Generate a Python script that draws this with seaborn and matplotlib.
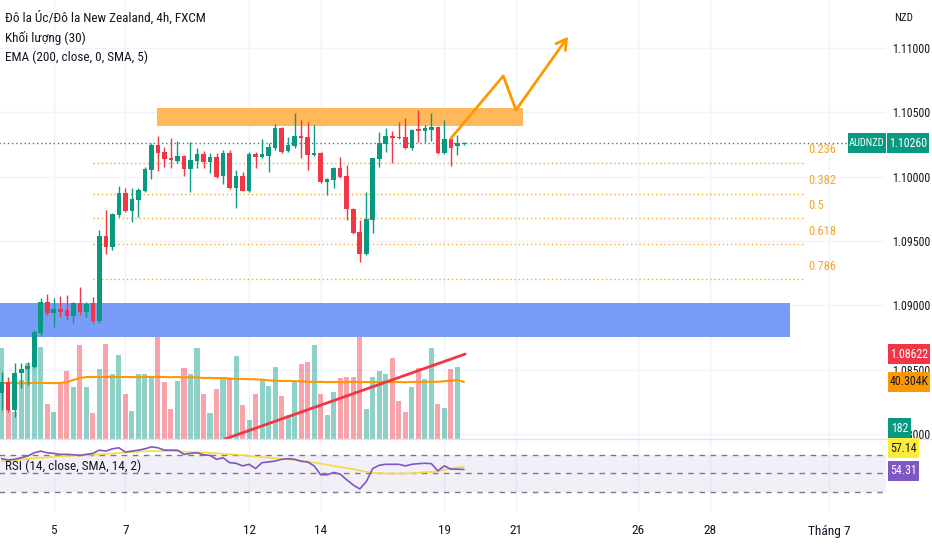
import matplotlib
matplotlib.use("Agg")
import matplotlib.pyplot as plt
from matplotlib import font_manager
from matplotlib.lines import Line2D
from matplotlib.patches import Rectangle
import numpy as np
import seaborn as sns

# 4h candles, AUDNZD (FXCM)
opens = [1.08319, 1.08405, 1.08187, 1.08475, 1.08506, 1.08521, 1.08786, 1.09026, 1.08941, 1.08972,
         1.08964, 1.08918, 1.09019, 1.08949, 1.09019, 1.08879, 1.09539, 1.09454, 1.09702, 1.09873,
         1.09734, 1.09819, 1.09889, 1.10052, 1.10246, 1.10192, 1.10145, 1.10122, 1.10161, 1.10060,
         1.10122, 1.10176, 1.10114, 1.10153, 1.10006, 1.10184, 1.09912, 1.10006, 1.09889, 1.10176,
         1.10153, 1.10161, 1.10223, 1.10378, 1.10200, 1.10239, 1.10316, 1.10309, 1.10169, 1.10184,
         1.09959, 1.09974, 1.10068, 1.10006, 1.09749, 1.09570, 1.09399, 1.09664, 1.10138, 1.10254,
         1.10316, 1.10309, 1.10309, 1.10223, 1.10371, 1.10355, 1.10363, 1.10386, 1.10184, 1.10293,
         1.10239, 1.10254]
highs = [1.08483, 1.08444, 1.08553, 1.08553, 1.08560, 1.08809, 1.09058, 1.09089, 1.09058, 1.09073,
         1.09081, 1.09026, 1.09143, 1.09026, 1.09065, 1.09586, 1.09741, 1.09718, 1.09928, 1.09912,
         1.09912, 1.09912, 1.10075, 1.10262, 1.10316, 1.10231, 1.10301, 1.10277, 1.10169, 1.10270,
         1.10223, 1.10200, 1.10184, 1.10184, 1.10208, 1.10208, 1.10052, 1.10037, 1.10192, 1.10192,
         1.10293, 1.10262, 1.10410, 1.10386, 1.10309, 1.10495, 1.10441, 1.10425, 1.10402, 1.10192,
         1.09990, 1.10075, 1.10153, 1.10091, 1.09757, 1.09664, 1.09881, 1.10145, 1.10347, 1.10378,
         1.10355, 1.10425, 1.10456, 1.10371, 1.10518, 1.10402, 1.10495, 1.10394, 1.10441, 1.10301,
         1.10324, 1.10270]
lows = [1.08187, 1.08172, 1.08133, 1.08358, 1.08382, 1.08514, 1.08762, 1.08925, 1.08832, 1.08910,
        1.08887, 1.08863, 1.08925, 1.08910, 1.08863, 1.08863, 1.09399, 1.09431, 1.09687, 1.09726,
        1.09648, 1.09687, 1.09881, 1.09982, 1.10044, 1.10075, 1.10068, 1.10107, 1.10006, 1.09881,
        1.10068, 1.10068, 1.10029, 1.09990, 1.09943, 1.09905, 1.09757, 1.09889, 1.09881, 1.10068,
        1.10145, 1.10037, 1.10208, 1.10184, 1.10192, 1.10223, 1.10145, 1.10052, 1.10161, 1.09951,
        1.09858, 1.09912, 1.09990, 1.09664, 1.09555, 1.09337, 1.09392, 1.09563, 1.10075, 1.10192,
        1.10107, 1.10293, 1.10215, 1.10208, 1.10270, 1.10270, 1.10277, 1.10176, 1.10176, 1.10083,
        1.10169, 1.10246]
closes = [1.08405, 1.08187, 1.08475, 1.08506, 1.08529, 1.08793, 1.09026, 1.08941, 1.08972, 1.08949,
          1.08918, 1.09019, 1.08949, 1.09011, 1.08879, 1.09539, 1.09454, 1.09710, 1.09873, 1.09734,
          1.09827, 1.09897, 1.10060, 1.10246, 1.10184, 1.10138, 1.10130, 1.10161, 1.10060, 1.10130,
          1.10176, 1.10114, 1.10153, 1.09998, 1.10184, 1.09912, 1.10006, 1.09889, 1.10176, 1.10153,
          1.10176, 1.10231, 1.10378, 1.10192, 1.10246, 1.10316, 1.10301, 1.10169, 1.10184, 1.09959,
          1.09982, 1.10068, 1.09998, 1.09749, 1.09563, 1.09399, 1.09671, 1.10145, 1.10262, 1.10316,
          1.10301, 1.10301, 1.10223, 1.10363, 1.10355, 1.10378, 1.10386, 1.10184, 1.10293, 1.10223,
          1.10262, 1.10260]

# volume in thousands, with its 30-bar average
volume_k = [64.3, 20.5, 19.1, 41.7, 53.7, 61.5, 65.0, 24.7, 19.1, 40.3,
            48.1, 36.8, 66.5, 36.8, 18.4, 49.5, 67.2, 46.0, 59.4, 31.8,
            19.8, 46.0, 46.0, 43.8, 73.5, 40.3, 21.2, 41.0, 50.2, 46.0,
            64.3, 31.8, 18.4, 35.4, 43.8, 43.1, 58.7, 24.0, 13.4, 31.8,
            41.7, 37.5, 50.9, 30.4, 17.0, 40.3, 53.0, 54.4, 66.5, 31.8,
            17.0, 33.2, 43.1, 43.8, 43.8, 73.5, 21.2, 43.8, 48.1, 46.0,
            57.3, 26.9, 19.1, 36.8, 50.2, 42.4, 64.3, 24.7, 21.9, 49.5,
            50.9, 0.182]
volume_ma_k = [39.6, 39.5, 39.6, 39.4, 39.5, 39.6, 39.7, 39.6, 39.5, 39.6,
               40.3, 41.7, 43.1, 43.8, 43.9, 43.8, 44.0, 43.9, 43.8, 43.9,
               43.8, 43.7, 43.8, 43.9, 44.0, 43.8, 43.7, 43.8, 43.6, 43.7,
               43.5, 43.1, 43.2, 43.0, 43.1, 42.8, 42.4, 42.5, 42.3, 42.2,
               42.0, 41.4, 41.2, 41.0, 41.1, 40.9, 40.8, 40.5, 40.3, 40.4,
               40.2, 40.3, 40.1, 40.3, 40.4, 40.2, 40.3, 40.2, 40.4, 40.3,
               40.2, 40.3, 40.1, 40.3, 40.4, 40.3, 40.6, 40.4, 40.9, 41.3,
               41.7, 40.304]

rsi = [65.8, 64.4, 65.1, 66.8, 68.6, 72.1, 73.9, 72.1, 71.4, 70.4,
       70.4, 70.0, 69.3, 70.4, 71.4, 74.9, 73.9, 76.3, 77.4, 72.8,
       73.9, 74.9, 76.3, 78.4, 77.4, 74.9, 74.9, 74.9, 70.4, 71.4,
       72.1, 70.0, 69.3, 65.1, 66.8, 61.6, 60.9, 58.1, 59.8, 55.3,
       61.6, 62.3, 63.3, 65.1, 65.8, 65.1, 63.0, 62.3, 58.1, 48.6,
       48.6, 51.1, 49.3, 43.3, 37.7, 33.5, 41.2, 55.3, 58.8, 59.8,
       59.8, 59.8, 58.1, 59.8, 60.5, 60.9, 60.5, 52.8, 58.1, 54.6,
       54.6, 54.31]
rsi_ma = [63.2, 63.5, 64.0, 64.8, 65.5, 66.2, 66.8, 67.3, 67.8, 68.2,
          68.6, 69.0, 69.3, 69.6, 70.0, 70.4, 70.9, 71.4, 71.9, 72.4,
          72.9, 73.3, 73.7, 73.9, 73.9, 73.9, 73.8, 73.6, 73.3, 73.0,
          72.8, 72.5, 72.0, 71.5, 71.0, 70.5, 70.2, 69.5, 68.8, 68.0,
          67.5, 67.0, 66.3, 65.5, 65.0, 64.5, 63.5, 62.6, 61.6, 60.5,
          59.3, 58.1, 57.0, 55.8, 54.6, 53.2, 51.8, 50.8, 50.2, 50.0,
          50.0, 50.0, 50.0, 50.3, 50.8, 51.3, 51.8, 52.5, 54.0, 55.3,
          56.5, 57.14]

date_ticks = [8, 19, 38, 49, 68, 79, 97.7, 108.8, 127.1]
date_labels = ["5", "7", "12", "14", "19", "21", "26", "28", "Tháng 7"]
price_ticks = [1.080, 1.085, 1.090, 1.095, 1.100, 1.105, 1.110]

fib_names = ["0.236", "0.382", "0.5", "0.618", "0.786"]
fib_prices = [1.10107, 1.09866, 1.09679, 1.09477, 1.09205]
fib_bars = [14.0, 123.1]

resist_bars = [23.9, 80.1]
resist_prices = [1.10394, 1.10534]
support_bars = [-5.0, 121.1]
support_prices = [1.08755, 1.09019]
trend_bars = [34.3, 71.2]
trend_prices = [1.07962, 1.08622]
path_bars = [69.0, 77.05, 79.0, 87.0]
path_prices = [1.10298, 1.10783, 1.10518, 1.11088]

UP = "#089981"
DOWN = "#f23645"
TEXT = "#131722"
GRID = "#f0f3fa"
W, H = 932, 550


def pick_font():
    names = {f.name for f in font_manager.fontManager.ttflist}
    for want in ("Liberation Sans Narrow", "Arial Narrow", "Roboto Condensed"):
        if want in names:
            return want, 1.0
    return "Liberation Sans", 0.86


def rect(x0, y0, x1, y1):
    return [x0 / W, 1 - y1 / H, (x1 - x0) / W, (y1 - y0) / H]


def tag(x0, x1, y_disp, text, face, fg, size):
    fig.add_artist(Rectangle((x0 / W, (y_disp - 10) / H), (x1 - x0) / W, 20 / H,
                             transform=fig.transFigure, facecolor=face,
                             edgecolor="none", zorder=6))
    fig.text((x0 + x1) / 2 / W, y_disp / H, text, ha="center", va="center",
             color=fg, fontsize=size * FS, zorder=7)


sns.set_theme(style="white")
FONT, FS = pick_font()
plt.rcParams["font.family"] = [FONT, "DejaVu Sans"]

fig = plt.figure(figsize=(W / 100, H / 100), dpi=100)
ax_bg = fig.add_axes(rect(0, 0, 886, 439))
ax_vol = fig.add_axes(rect(0, 0, 886, 439), sharex=ax_bg)
ax = fig.add_axes(rect(0, 0, 886, 439), sharex=ax_bg)
ax_rsi = fig.add_axes(rect(0, 439, 886, 512), sharex=ax_bg)

ylim = (1.07962, 1.11373)
ax_bg.set_xlim(-0.26, 135.84)
for a in (ax_bg, ax):
    a.set_ylim(*ylim)
for a in (ax_bg, ax_vol, ax, ax_rsi):
    for s in a.spines.values():
        s.set_visible(False)
ax_vol.patch.set_visible(False)
ax.patch.set_visible(False)

# grid lives on the bottom axes so it stays behind volume and candles
ax_bg.set_yticks(price_ticks)
ax_bg.set_xticks(date_ticks, labels=date_labels)
ax_bg.grid(True, color=GRID, lw=1)
ax_bg.tick_params(left=False, bottom=False, labelleft=False, labelbottom=False)

bars = np.arange(len(closes))
o = np.array(opens)
c = np.array(closes)
up = c >= o
cols = np.where(up, UP, DOWN)

# volume
ax_vol.set_ylim(0, 310.4)
ax_vol.bar(bars, volume_k, width=0.78, color=cols, alpha=0.45, linewidth=0)
sns.lineplot(x=bars, y=volume_ma_k, ax=ax_vol, color="#ff9800", lw=1.5, legend=False)
ax_vol.set_xlabel("")
ax_vol.set_ylabel("")
ax_vol.tick_params(left=False, bottom=False, labelleft=False, labelbottom=False)

# drawings and candles
ax.add_patch(Rectangle((support_bars[0], support_prices[0]), support_bars[1] - support_bars[0],
                       support_prices[1] - support_prices[0], facecolor="#7a9cf9",
                       edgecolor="none", zorder=1))
ax.add_patch(Rectangle((resist_bars[0], resist_prices[0]), resist_bars[1] - resist_bars[0],
                       resist_prices[1] - resist_prices[0], facecolor="#ffb95a",
                       edgecolor="none", zorder=1))
ax.hlines(fib_prices, fib_bars[0], fib_bars[1], colors="#f5a52c", lw=1,
          linestyles=(0, (1, 2)), zorder=2)
for name, p in zip(fib_names, fib_prices):
    ax.annotate(name, xy=(fib_bars[1], p), xytext=(5, 13), textcoords="offset pixels",
                ha="left", va="center", color="#f5a52c", fontsize=9 * FS)
ax.hlines(closes[-1], -1, 130.0, colors=UP, lw=1, linestyles=(0, (1, 2)), zorder=2)

body_lo = np.minimum(o, c)
body_h = np.maximum(np.abs(c - o), 0.00005)
ax.vlines(bars, lows, highs, colors=cols, lw=1, zorder=3)
ax.bar(bars, body_h, bottom=body_lo, width=0.7, color=cols, linewidth=0, zorder=4)

ax.plot(trend_bars, trend_prices, color=DOWN, lw=2, zorder=5, solid_capstyle="round")
ax.plot(path_bars[:-1], path_prices[:-1], color="#ff9800", lw=2, zorder=5)
ax.annotate("", xy=(path_bars[-1], path_prices[-1]), xytext=(path_bars[-2], path_prices[-2]),
            arrowprops=dict(arrowstyle="->,head_length=0.6,head_width=0.35",
                            color="#ff9800", lw=2, shrinkA=0, shrinkB=0), zorder=5)

ax.yaxis.tick_right()
ax.set_yticks(price_ticks, labels=[f"{p:.5f}" for p in price_ticks])
ax.tick_params(axis="y", length=0, pad=4.5, labelsize=8.6 * FS, colors=TEXT)
ax.tick_params(axis="x", bottom=False, labelbottom=False, length=0)
ax.grid(False)

# RSI pane
ax_rsi.set_ylim(8.9, 86.8)
ax_rsi.set_facecolor("white")
ax_rsi.axhspan(30, 70, color="#7e57c2", alpha=0.09, lw=0)
ax_rsi.hlines([70, 50, 30], -1, 140, colors="#787b86", lw=1, linestyles=(0, (4, 4)))
sns.lineplot(x=bars, y=rsi_ma, ax=ax_rsi, color="#f5dc3a", lw=1.2, legend=False)
sns.lineplot(x=bars, y=rsi, ax=ax_rsi, color="#7e57c2", lw=1.2, legend=False)
ax_rsi.set_xlabel("")
ax_rsi.set_ylabel("")
ax_rsi.grid(True, axis="x", color=GRID, lw=1)
ax_rsi.set_axisbelow(True)
ax_rsi.tick_params(axis="x", bottom=False, labelbottom=True, length=0, pad=9,
                   labelsize=9.6 * FS, colors=TEXT)
ax_rsi.tick_params(axis="y", left=False, labelleft=False, length=0)

fig.add_artist(Line2D([0, 1], [1 - 439 / H] * 2, transform=fig.transFigure,
                      color="#e0e3eb", lw=1))

# legend texts
legend_size = 9.5 * FS
fig.text(5 / W, 1 - 18 / H, "Đô la Úc/Đô la New Zealand, 4h, FXCM", ha="left", va="center",
         color=TEXT, fontsize=legend_size)
fig.text(5 / W, 1 - 38 / H, "Khối lượng (30)", ha="left", va="center", color=TEXT,
         fontsize=legend_size)
fig.text(5 / W, 1 - 57 / H, "EMA (200, close, 0, SMA, 5)", ha="left", va="center",
         color=TEXT, fontsize=legend_size)
fig.text(5 / W, 1 - 466 / H, "RSI (14, close, SMA, 14, 2)", ha="left", va="center",
         color=TEXT, fontsize=legend_size)
fig.text(894 / W, 1 - 18 / H, "NZD", ha="left", va="center", color=TEXT, fontsize=8 * FS)

# value tags on the price scale
y_last = ax.transData.transform((0, closes[-1]))[1]
y_trend = ax.transData.transform((0, trend_prices[-1]))[1]
y_vma = ax_vol.transData.transform((0, volume_ma_k[-1]))[1]
tag(848, 886, y_last, "AUDNZD", UP, "white", 7.6)
tag(887, 929, y_last, f"{closes[-1]:.5f}", UP, "white", 8.6)
tag(888, 930, y_trend, f"{trend_prices[-1]:.5f}", DOWN, "white", 8.6)
tag(888, 930, y_vma, f"{volume_ma_k[-1]:.3f}K", "#ff9800", TEXT, 8.6)
tag(888, 911, H - 428, f"{volume_k[-1] * 1000:.0f}", UP, "white", 8.6)
tag(888, 919, H - 448, f"{rsi_ma[-1]:.2f}", "#ffeb3b", TEXT, 8.6)
tag(888, 919, H - 471, f"{rsi[-1]:.2f}", "#7e57c2", "white", 8.6)

fig.savefig("out.png", dpi=100)
